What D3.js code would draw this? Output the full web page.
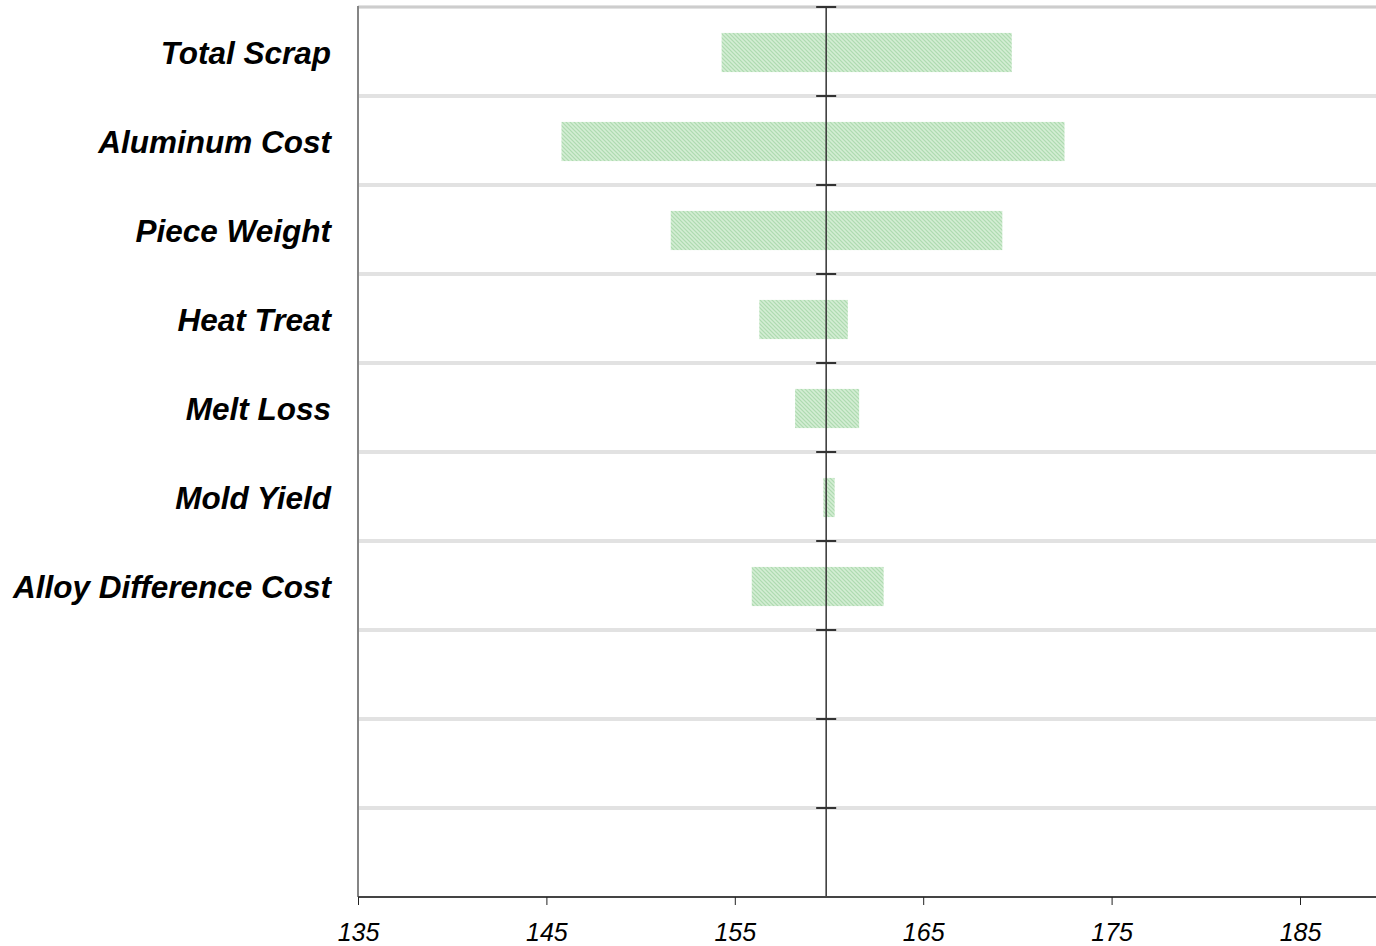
<!DOCTYPE html>
<html>
<head>
<meta charset="utf-8">
<script src="https://cdn.jsdelivr.net/npm/d3@7/dist/d3.min.js"></script>
<style>
  html, body { margin: 0; padding: 0; background: #fff; }
  svg { display: block; }
</style>
</head>
<body>
<svg id="chart" width="1376" height="946"></svg>
<script>
// Sensitivity drivers, top to bottom
const categories = ["Total Scrap", "Aluminum Cost", "Piece Weight", "Heat Treat", "Melt Loss", "Mold Yield", "Alloy Difference Cost"];
// Low and high outcome for each driver
const lowValues  = [154.3, 145.8, 151.6, 156.3, 158.2, 159.7, 155.9];
const highValues = [169.7, 172.5, 169.2, 161.0, 161.6, 160.3, 162.9];
const baseValue = 159.85;
const rowCount = 10;
const tickValues = [135, 145, 155, 165, 175, 185];

const svg = d3.select("#chart");
const W = 1376, H = 946;
const margin = { left: 358, top: 7, bottom: 49 };
const plotBottom = H - margin.bottom;

const x = d3.scaleLinear().domain([135, 190]).range([margin.left, margin.left + 55 * 18.84]);
const rows = d3.range(rowCount);
const y = d3.scaleBand().domain(rows).range([margin.top + 1, plotBottom + 1])
  .paddingInner(0.56).paddingOuter(0.28);
const step = y.step();
const rowEdge = i => margin.top + i * step;

// Dithered green fill
const defs = svg.append("defs");
const pat = defs.append("pattern").attr("id", "dither")
  .attr("patternUnits", "userSpaceOnUse").attr("width", 4).attr("height", 4);
pat.append("rect").attr("width", 4).attr("height", 4).attr("fill", "#c6e7c7");
[[0,0],[1,1],[2,2],[3,3],[2,0],[3,1],[0,2],[1,3]].forEach(([px, py], k) => {
  pat.append("rect").attr("x", px).attr("y", py).attr("width", 1).attr("height", 1)
    .attr("fill", k < 4 ? "#afdbb1" : "#d4edd4");
});

// Row separators
svg.append("g").selectAll("line").data(d3.range(rowCount))
  .join("line")
  .attr("x1", margin.left).attr("x2", W)
  .attr("y1", d => rowEdge(d)).attr("y2", d => rowEdge(d))
  .attr("stroke", "#e2e2e2").attr("stroke-width", 4);
svg.append("line")
  .attr("x1", margin.left).attr("x2", W)
  .attr("y1", margin.top).attr("y2", margin.top)
  .attr("stroke", "#b8b8b8").attr("stroke-width", 1);

// Bars
svg.append("g").selectAll("rect").data(categories)
  .join("rect")
  .attr("x", (d, i) => x(lowValues[i]))
  .attr("width", (d, i) => x(highValues[i]) - x(lowValues[i]))
  .attr("y", (d, i) => y(i))
  .attr("height", y.bandwidth())
  .attr("fill", "url(#dither)");

// Base line with row ticks
svg.append("line")
  .attr("x1", x(baseValue)).attr("x2", x(baseValue))
  .attr("y1", margin.top).attr("y2", plotBottom)
  .attr("stroke", "#333").attr("stroke-width", 1.5);
svg.append("g").selectAll("line").data(d3.range(rowCount))
  .join("line")
  .attr("x1", x(baseValue) - 10).attr("x2", x(baseValue) + 10)
  .attr("y1", d => rowEdge(d)).attr("y2", d => rowEdge(d))
  .attr("stroke", "#333").attr("stroke-width", 2);

// Left frame
svg.append("line")
  .attr("x1", margin.left).attr("x2", margin.left)
  .attr("y1", margin.top - 1).attr("y2", plotBottom)
  .attr("stroke", "#858585").attr("stroke-width", 2);

// Category labels
svg.append("g").selectAll("text").data(categories)
  .join("text")
  .attr("x", 331)
  .attr("y", (d, i) => y(i) + y.bandwidth() / 2)
  .attr("dy", "0.36em")
  .attr("text-anchor", "end")
  .attr("font-family", "'Liberation Sans', Arial, sans-serif")
  .attr("font-size", 31.5).attr("font-weight", "bold").attr("font-style", "italic")
  .attr("fill", "#000")
  .text(d => d);

// Value axis
const axis = svg.append("g").attr("transform", `translate(0,${plotBottom})`)
  .call(d3.axisBottom(x).tickValues(tickValues).tickSize(8).tickPadding(18).tickFormat(d3.format("d")));
axis.select(".domain").attr("d", `M${margin.left},0H${W}`).attr("stroke", "#444").attr("stroke-width", 2);
axis.selectAll(".tick line").attr("stroke", "#222");
axis.selectAll(".tick text")
  .attr("font-family", "'Liberation Sans', Arial, sans-serif")
  .attr("font-size", 25).attr("font-style", "italic").attr("fill", "#000");
</script>
</body>
</html>
